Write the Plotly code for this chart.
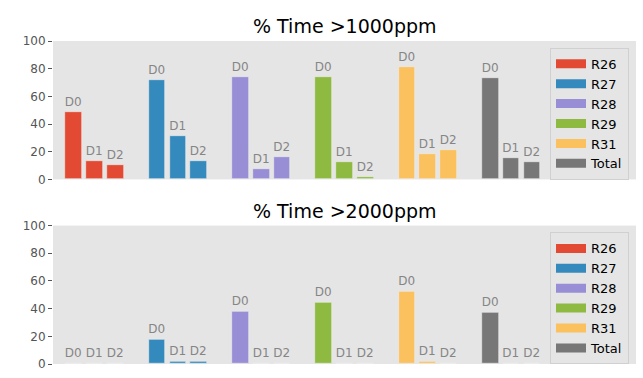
import plotly.graph_objects as go
from plotly.subplots import make_subplots

regions = ["R26", "R27", "R28", "R29", "R31", "Total"]
days = ["D0", "D1", "D2"]
colors = ["#E24A33", "#348ABD", "#988ED5", "#8EBA42", "#FBC15E", "#777777"]

pct_over_1000 = {
    "R26": [48.7, 13.2, 10.2],
    "R27": [71.6, 31.7, 13.2],
    "R28": [73.8, 7.8, 16.1],
    "R29": [74.0, 12.8, 2.1],
    "R31": [80.9, 18.7, 21.3],
    "Total": [73.3, 15.4, 12.5],
}
pct_over_2000 = {
    "R26": [0.5, 0.0, 0.0],
    "R27": [17.5, 2.1, 2.1],
    "R28": [37.6, 0.0, 0.0],
    "R29": [44.7, 0.0, 0.0],
    "R31": [52.5, 1.4, 0.0],
    "Total": [37.1, 0.3, 0.0],
}
titles = ["% Time >1000ppm", "% Time >2000ppm"]
y_ticks = [0, 20, 40, 60, 80, 100]

FONT = "DejaVu Sans"
bar_step = 0.25
bar_width = 0.2

fig = make_subplots(rows=2, cols=1, vertical_spacing=0.1)

datasets = [pct_over_1000, pct_over_2000]
legend_names = ["legend", "legend2"]
for r, data in enumerate(datasets, start=1):
    for g, (reg, col) in enumerate(zip(regions, colors)):
        xs = [g + k * bar_step for k in range(len(days))]
        fig.add_trace(go.Bar(
            x=xs, y=data[reg], width=bar_width, text=days,
            textposition="outside", cliponaxis=False, constraintext="none",
            textfont=dict(family=FONT, size=12, color="#858585"),
            marker=dict(color=col, line=dict(color="#EEEEEE", width=0.6)),
            showlegend=False, hoverinfo="skip",
        ), row=r, col=1)
    for reg, col in zip(regions, colors):
        fig.add_trace(go.Scatter(
            x=[None], y=[None], mode="lines", name=reg,
            line=dict(color=col, width=9), legend=legend_names[r - 1],
            showlegend=True,
        ), row=r, col=1)

# layout geometry
T, B = 41, 8
H = 378 - T - B
top_dom = [(370 - 182) / H, 1.0]
bot_dom = [0.0, (370 - 229) / H]

for ax_x, ax_y, dom in [("xaxis", "yaxis", top_dom), ("xaxis2", "yaxis2", bot_dom)]:
    fig.layout[ax_x].update(range=[-0.25, 6.75], showticklabels=False, ticks="",
                            showgrid=False, zeroline=False, showline=False)
    fig.layout[ax_y].update(domain=dom, range=[0, 100], tickvals=y_ticks,
                            ticks="outside", ticklen=4, tickcolor="#555555",
                            tickfont=dict(family=FONT, size=12, color="#555555"),
                            showgrid=False, zeroline=False, showline=False)

for title, ypix in zip(titles, [26, 214]):
    fig.add_annotation(text=title, xref="paper", yref="paper", x=0.5,
                       y=(370 - ypix) / H, xanchor="center", yanchor="middle",
                       showarrow=False, font=dict(family=FONT, size=19, color="#000000"))

legend_style = dict(bgcolor="rgba(229,229,229,0.8)", bordercolor="#D0D0D0", borderwidth=1,
                    font=dict(family=FONT, size=13, color="#000000"),
                    xanchor="right", yanchor="top", x=(629 - 53) / 583)
fig.update_layout(
    legend=dict(y=(370 - 48) / H, **legend_style),
    legend2=dict(y=(370 - 236) / H, **legend_style),
)

fig.update_layout(
    width=643, height=378,
    margin=dict(l=53, r=7, t=T, b=B),
    paper_bgcolor="#FFFFFF", plot_bgcolor="#E5E5E5",
    barmode="overlay", bargap=0,
    font=dict(family=FONT),
)

fig.write_html("out.html", config={"displayModeBar": False},
               post_script="document.body.style.margin='0';document.body.style.overflow='hidden';")
